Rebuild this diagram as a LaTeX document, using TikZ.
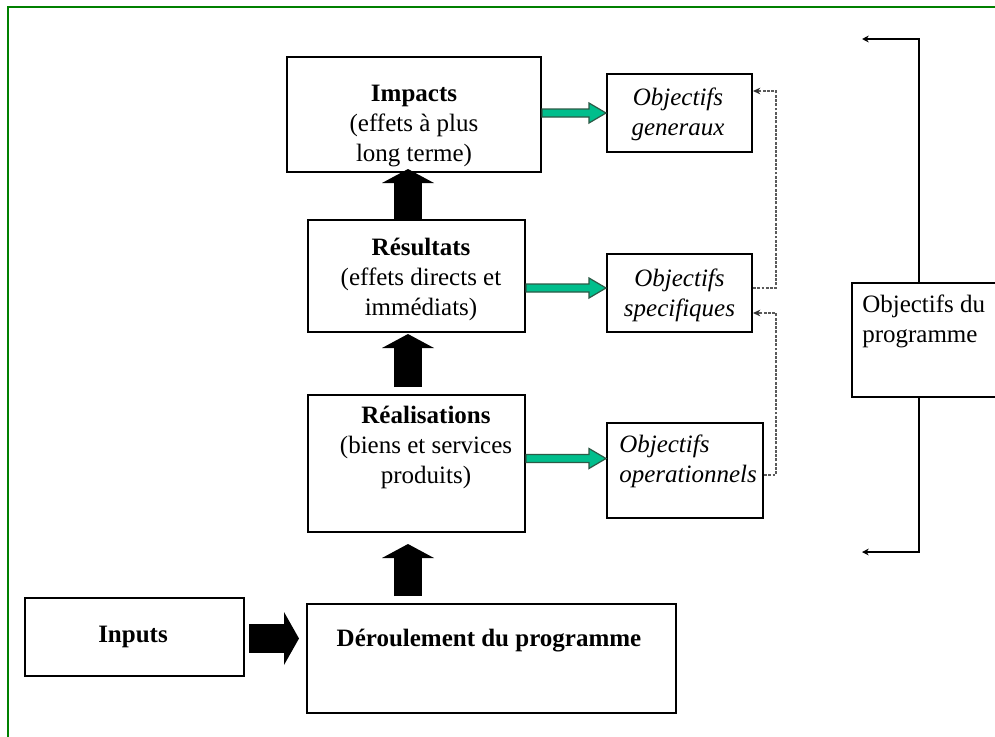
\documentclass[tikz,border=0pt]{standalone}
\usepackage{fontspec}
\setmainfont{Liberation Serif}
\usetikzlibrary{arrows.meta,calc}
\definecolor{framegreen}{RGB}{0,128,0}
\definecolor{arrfill}{RGB}{0,190,140}
\definecolor{arrdraw}{RGB}{45,90,70}
\definecolor{dotgrey}{RGB}{90,90,90}
\newcommand\greenarr[2]{%
  \filldraw[garrow] ($(#1)+(0,-4)$) -- ($(#2)+(-17,-4)$) -- ($(#2)+(-17,-10)$) -- (#2)
    -- ($(#2)+(-17,10)$) -- ($(#2)+(-17,4)$) -- ($(#1)+(0,4)$) -- cycle;}
\begin{document}
\begin{tikzpicture}[x=0.75pt,y=-0.75pt,
  box/.style={draw=black, line width=1.5pt, fill=white, inner sep=0pt},
  txt/.style={align=center, inner sep=0pt, font=\fontsize{18.75}{22.5}\selectfont},
  itxt/.style={txt, font=\fontsize{18.75}{22.5}\selectfont\itshape},
  bigup/.style={line width=21pt, -{Triangle[width=39pt, length=10.5pt, line width=0pt]}},
  garrow/.style={fill=arrfill, draw=arrdraw, line width=0.9pt, line join=miter},
  dotconn/.style={draw=dotgrey, line width=1.3pt, dash pattern=on 2.2pt off 1pt},
  dottip/.style={-{Stealth[length=5.5pt, width=5pt, black!80]}},
  bracket/.style={draw=black, line width=1.5pt, -{Stealth[length=5pt, width=5pt]}},
  frame/.style={draw=framegreen, line width=1.8pt}
]
\useasboundingbox (0,0) rectangle (995,736);
\clip (0,0) rectangle (995,736);
\fill[white] (0,0) rectangle (995,736);
\draw[frame] (8,745) -- (8,7) -- (1005,7);

% boxes
\node[box, minimum width=190.5pt, minimum height=86.25pt] (imp) at (414,114.5) {};
\node[box, minimum width=162.75pt, minimum height=84pt] (res) at (416.5,276) {};
\node[box, minimum width=162.75pt, minimum height=102.75pt] (real) at (416.5,463.5) {};
\node[box, minimum width=276.75pt, minimum height=81.75pt] (der) at (491.5,658.5) {};
\node[box, minimum width=164.25pt, minimum height=58.5pt] (inp) at (134.5,637) {};
\node[box, minimum width=108.75pt, minimum height=58.5pt] (og) at (679.5,113) {};
\node[box, minimum width=108.75pt, minimum height=58.5pt] (os) at (679.5,293) {};
\node[box, minimum width=117pt, minimum height=71.25pt] (oo) at (685,470.5) {};
\node[box, minimum width=111pt, minimum height=85.5pt] (op) at (926,340) {};

% texts
\node[txt] (timp) at (414,126) {\textbf{Impacts}\\(effets à plus\\long terme)};
\node[txt] (tres) at (421,279) {\textbf{Résultats}\\(effets directs et\\immédiats)};
\node[txt] (treal) at (426,447.5) {\textbf{Réalisations}\\(biens et services\\produits)};
\node[txt] (tder) at (489,641) {\textbf{Déroulement du programme}};
\node[txt] (tinp) at (133,637) {\textbf{Inputs}};
\node[itxt] (tog) at (678,114) {Objectifs\\generaux};
\node[itxt] (tos) at (679.5,295) {Objectifs\\specifiques};
\node[itxt, anchor=west, align=left] (too) at (619,461) {Objectifs\\operationnels};
\node[txt, anchor=west, align=left] (top) at (862,321) {Objectifs du\\programme};

% big black arrows
\draw[bigup] ($(der.north)+(-83.5,-7)$) -- ($(real.south)+(-8.5,11)$);
\draw[bigup] ($(real.north)+(-8.5,-7)$) -- ($(res.south)+(-8.5,1)$);
\draw[bigup] ($(res.north)+(-8.5,0)$) -- ($(imp.south)+(-6,-4)$);
\draw[line width=21.75pt, -{Triangle[width=39.75pt, length=11.25pt, line width=0pt]}]
  ($(inp.east)+(4,1.5)$) -- ($(der.west)+(-7,-20)$);

% green arrows
\coordinate (g1e) at (og.west);
\coordinate (g1s) at (imp.east |- g1e);
\greenarr{g1s}{g1e}
\coordinate (g2e) at ($(os.west)+(0,-5)$);
\coordinate (g2s) at (res.east |- g2e);
\greenarr{g2s}{g2e}
\coordinate (g3e) at ($(oo.west)+(0,-12)$);
\coordinate (g3s) at (real.east |- g3e);
\greenarr{g3s}{g3e}

% dotted connectors
\coordinate (bus) at (776,0);
\coordinate (d1a) at ($(os.east)+(0,-5)$);
\coordinate (d1b) at ($(og.east)+(0,-22)$);
\draw[dotconn, dottip] (d1a) -- (d1a -| bus) -- (d1b -| bus) -- (d1b);
\coordinate (d2a) at ($(oo.east)+(0,4.5)$);
\coordinate (d2b) at ($(os.east)+(0,20)$);
\draw[dotconn, dottip] (d2a) -- (d2a -| bus) -- (d2b -| bus) -- (d2b);

% bracket
\coordinate (brk) at (919,0);
\coordinate (ptop) at (862,39);
\coordinate (pbot) at (862,552);
\draw[bracket] (op.north -| brk) |- (ptop);
\draw[bracket] (op.south -| brk) |- (pbot);
\end{tikzpicture}
\end{document}
